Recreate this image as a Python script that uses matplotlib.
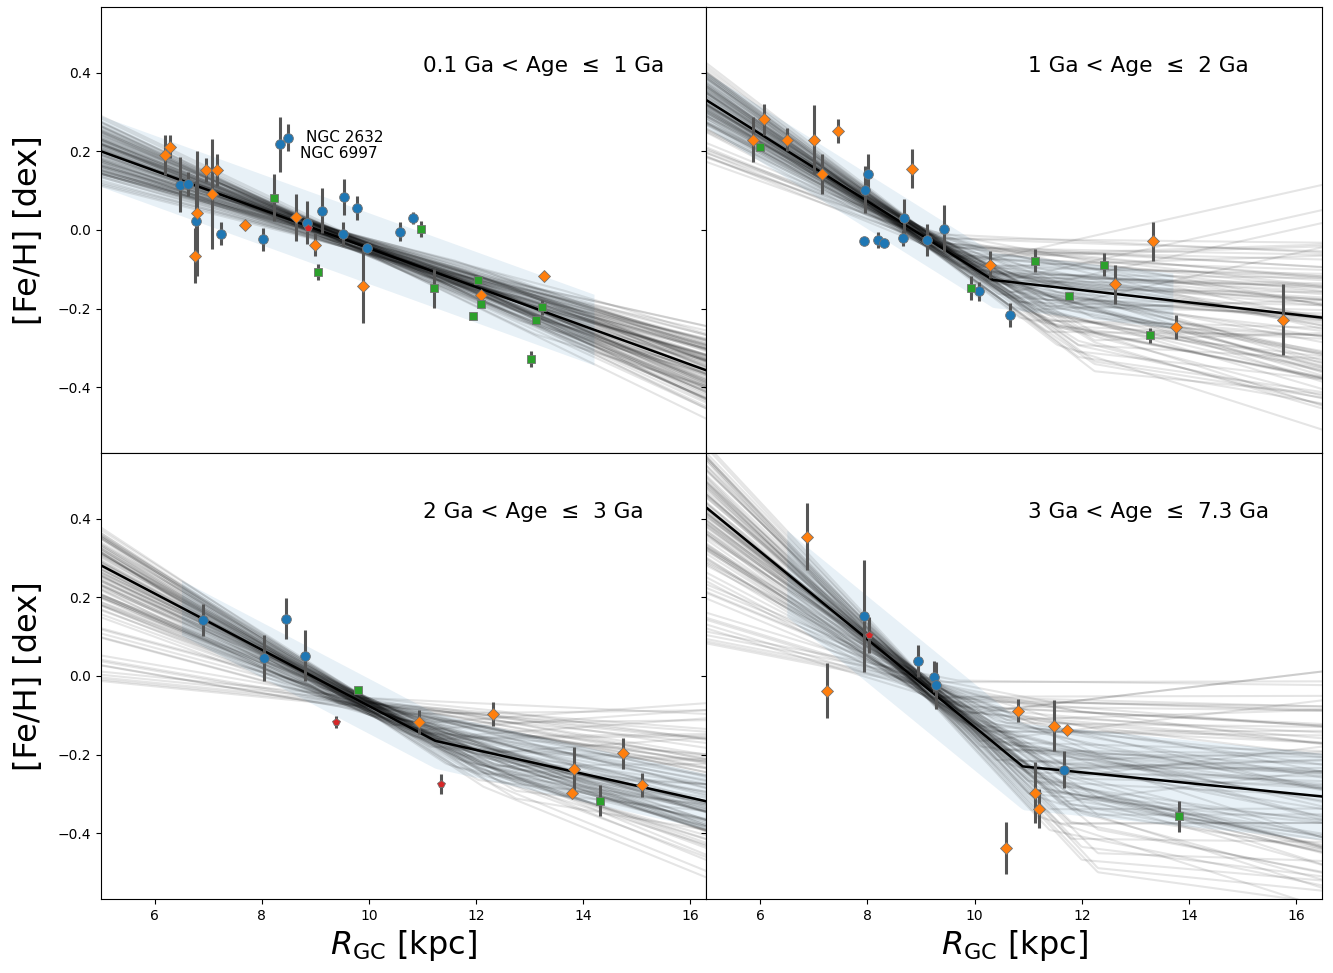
import matplotlib.pyplot as plt
import numpy as np

# Figure size (inches) and DPI
figsize = (13.33, 9.73)
dpi = 100

# Panel titles (age bins)
titles = ['0.1 Ga < Age  \u2264  1 Ga', '1 Ga < Age  \u2264  2 Ga',
          '2 Ga < Age  \u2264  3 Ga', '3 Ga < Age  \u2264  7.3 Ga']

# --- Cluster data per age bin: (R_GC, [Fe/H], error) for each sample ---
# 0.1 - 1 Ga
blue_r1 = [6.47, 6.63, 6.77, 7.24, 8.02, 8.34, 8.49, 8.85, 9.12, 9.53, 9.52, 9.77, 9.96, 10.58, 10.82]
blue_f1 = [0.115, 0.117, 0.024, -0.009, -0.024, 0.218, 0.235, 0.019, 0.049, 0.084, -0.010, 0.056, -0.045, -0.004, 0.031]
blue_e1 = [0.07, 0.03, 0.10, 0.03, 0.03, 0.07, 0.035, 0.055, 0.057, 0.045, 0.03, 0.03, 0.01, 0.025, 0.015]
orng_r1 = [6.19, 6.28, 6.95, 7.16, 7.08, 6.80, 6.75, 7.68, 8.63, 8.99, 9.89, 12.09, 13.27]
orng_f1 = [0.191, 0.212, 0.152, 0.152, 0.091, 0.042, -0.066, 0.013, 0.032, -0.037, -0.142, -0.165, -0.118]
orng_e1 = [0.05, 0.03, 0.03, 0.04, 0.14, 0.16, 0.07, 0.0, 0.06, 0.03, 0.094, 0.0, 0.0]
gren_r1 = [8.22, 9.04, 10.97, 11.21, 12.03, 12.09, 11.95, 13.23, 13.12, 13.02]
gren_f1 = [0.082, -0.106, 0.003, -0.148, -0.127, -0.187, -0.218, -0.197, -0.228, -0.328]
gren_e1 = [0.06, 0.02, 0.02, 0.05, 0.0, 0.0, 0.0, 0.02, 0.0, 0.02]
red_r1 = [8.87]
red_f1 = [0.004]
red_e1 = [0.0]

# 1 - 2 Ga
blue_r2 = [8.01, 7.96, 7.93, 8.19, 8.32, 8.69, 8.66, 9.12, 9.43, 10.08, 10.67]
blue_f2 = [0.142, 0.102, -0.028, -0.025, -0.034, 0.030, -0.021, -0.025, 0.003, -0.156, -0.216]
blue_e2 = [0.05, 0.06, 0.0, 0.02, 0.0, 0.05, 0.02, 0.04, 0.06, 0.025, 0.03]
orng_r2 = [5.87, 6.07, 6.50, 7.00, 7.16, 7.45, 8.84, 10.29, 13.33, 12.62, 13.75, 15.76]
orng_f2 = [0.230, 0.281, 0.230, 0.230, 0.142, 0.251, 0.156, -0.088, -0.029, -0.138, -0.246, -0.228]
orng_e2 = [0.058, 0.04, 0.03, 0.087, 0.05, 0.03, 0.05, 0.035, 0.05, 0.05, 0.03, 0.09]
gren_r2 = [6.00, 9.93, 11.12, 11.77, 12.42, 13.27]
gren_f2 = [0.212, -0.148, -0.078, -0.168, -0.088, -0.268]
gren_e2 = [0.0, 0.03, 0.03, 0.0, 0.03, 0.02]
red_r2 = []
red_f2 = []
red_e2 = []

# 2 - 3 Ga
blue_r3 = [6.91, 8.04, 8.46, 8.80]
blue_f3 = [0.142, 0.045, 0.146, 0.052]
blue_e3 = [0.04, 0.058, 0.052, 0.065]
orng_r3 = [10.94, 12.31, 13.83, 13.79, 14.74, 15.10]
orng_f3 = [-0.117, -0.096, -0.236, -0.297, -0.197, -0.277]
orng_e3 = [0.03, 0.03, 0.055, 0.0, 0.04, 0.03]
gren_r3 = [9.80, 14.31]
gren_f3 = [-0.036, -0.317]
gren_e3 = [0.0, 0.04]
red_r3 = [9.38, 11.35]
red_f3 = [-0.117, -0.275]
red_e3 = [0.015, 0.025]

# 3 - 7.3 Ga
blue_r4 = [7.93, 8.95, 9.25, 9.28, 11.66]
blue_f4 = [0.152, 0.038, -0.002, -0.024, -0.239]
blue_e4 = [0.143, 0.04, 0.04, 0.06, 0.047]
orng_r4 = [6.87, 7.25, 10.82, 11.49, 11.73, 11.13, 11.20, 10.58]
orng_f4 = [0.354, -0.037, -0.088, -0.127, -0.138, -0.297, -0.337, -0.437]
orng_e4 = [0.085, 0.07, 0.03, 0.065, 0.0, 0.078, 0.05, 0.066]
gren_r4 = [13.81]
gren_f4 = [-0.357]
gren_e4 = [0.04]
red_r4 = [8.03]
red_f4 = [0.104]
red_e4 = [0.045]

# --- Broken-line fits: knot radius, [Fe/H] at knot, inner and outer slope ---
knot = [12.0, 10.34, 11.24, 10.90]
feh_knot = [-0.145, -0.127, -0.165, -0.230]
slope_in = [-0.0493, -0.0856, -0.0715, -0.1115]
slope_out = [-0.0493, -0.0156, -0.0304, -0.0137]
# radius where the posterior ensemble is tightest
pivot = [9.5, 9.0, 10.0, 9.0]
# half width of the shaded scatter band and its radial extent
band_half = [0.09, 0.07, 0.07, 0.11]
band_range = [(5.0, 14.2), (5.0, 13.7), (6.5, 16.5), (6.5, 16.5)]

# Posterior draw offsets (knot, pivot value, inner slope, outer slope)
dk = [[-1.5, 0.8, -0.4, 1.6, 0.2, -1.0, 1.1, -0.2, 0.5, -1.8, 1.3, -0.7, 0.0],
      [-0.6, 1.0, 0.1, -0.9, 0.5, 1.6, -0.3, 0.8, -1.2, 0.3, 1.9, -0.1, 1.2],
      [-1.2, 0.8, -0.4, 1.1, 0.2, -1.8, 0.6, -0.1, 1.5, -0.8, 0.4, -1.4, 0.9],
      [-0.8, 0.9, 0.2, -1.2, 0.5, 1.4, -0.3, 0.7, -0.5, 0.1, 1.1, -1.5, 0.3]]
dy = [[0.012, -0.016, 0.004, -0.006, 0.018, -0.01, 0.0, 0.008, -0.003,
       0.014, -0.02, 0.006, -0.012, 0.002, 0.01, -0.008, 0.016],
      [0.014, -0.018, 0.004, -0.008, 0.02, -0.012, 0.0, 0.009, -0.004,
       0.016, -0.022, 0.007, -0.014, 0.002, 0.011, -0.009, 0.018],
      [0.012, -0.018, 0.005, -0.008, 0.02, -0.012, 0.0, 0.009, -0.004,
       0.015, -0.022, 0.007, -0.014, 0.002, 0.011, -0.009, 0.017],
      [0.016, -0.022, 0.006, -0.01, 0.025, -0.014, 0.0, 0.01, -0.005,
       0.019, -0.027, 0.008, -0.017, 0.003, 0.013, -0.011, 0.021]]
ds1 = [[0.005, -0.009, 0.012, -0.003, 0.008, -0.013, 0.002, -0.006, 0.01, -0.001,
        0.015, -0.011, 0.004, -0.016, 0.007, 0.0, -0.005, 0.013, -0.008],
       [0.006, -0.012, 0.015, -0.004, 0.009, -0.016, 0.03, -0.007, 0.002, 0.012,
        -0.009, 0.004, -0.019, 0.037, -0.002, 0.008, -0.013, 0.019, 0.0],
       [0.006, -0.012, 0.016, -0.004, 0.01, -0.015, 0.048, 0.0, 0.022, -0.008,
        0.012, 0.003, -0.018, 0.035, -0.002, 0.008, -0.01, 0.058, 0.018],
       [0.01, -0.022, 0.025, -0.006, 0.016, -0.03, 0.07, 0.002, 0.04, -0.012,
        0.02, 0.005, -0.035, 0.055, -0.003, 0.012, -0.018, 0.085, 0.03]]
ds2 = [[-0.008, 0.011, 0.002, -0.014, 0.006, -0.003, 0.015, -0.011, 0.0, 0.008, -0.005, 0.004,
        -0.017, 0.012, -0.001, 0.019, -0.009, 0.005, -0.013, 0.009, -0.006, 0.001, 0.013],
       [-0.012, 0.014, 0.003, -0.024, 0.008, -0.004, 0.02, -0.017, 0.0, 0.011, -0.008, 0.009,
        -0.028, 0.005, -0.014, 0.046, -0.006, 0.013, -0.02, 0.002, 0.012, -0.01, 0.007],
       [-0.012, 0.016, 0.003, -0.02, 0.008, -0.004, 0.032, -0.015, 0.0, 0.012, -0.007, 0.02,
        -0.025, 0.005, -0.011, 0.04, -0.003, 0.01, -0.017, 0.002, 0.024, -0.008, 0.006],
       [-0.014, 0.012, 0.003, -0.024, 0.009, -0.005, 0.03, -0.018, 0.0, 0.012, -0.008, 0.014,
        -0.03, 0.006, -0.012, 0.018, -0.003, 0.01, -0.02, 0.002, 0.014, -0.01, 0.007]]
ndraws = 100

data = [
    (blue_r1, blue_f1, blue_e1, orng_r1, orng_f1, orng_e1, gren_r1, gren_f1, gren_e1, red_r1, red_f1, red_e1),
    (blue_r2, blue_f2, blue_e2, orng_r2, orng_f2, orng_e2, gren_r2, gren_f2, gren_e2, red_r2, red_f2, red_e2),
    (blue_r3, blue_f3, blue_e3, orng_r3, orng_f3, orng_e3, gren_r3, gren_f3, gren_e3, red_r3, red_f3, red_e3),
    (blue_r4, blue_f4, blue_e4, orng_r4, orng_f4, orng_e4, gren_r4, gren_f4, gren_e4, red_r4, red_f4, red_e4),
]

xlims = [(5.0, 16.3), (5.0, 16.48)]
ymin, ymax = -0.567, 0.567


def broken_line(x, k, yk, s1, s2):
    return np.where(x < k, yk + s1*(x - k), yk + s2*(x - k))


def line_through_pivot(x, xp, yp, k, s1, s2):
    # knot value from the pivot point
    if xp <= k:
        yk = yp + s1*(k - xp)
    else:
        yk = yp - s2*(xp - k)
    return broken_line(x, k, yk, s1, s2)


fig, axes = plt.subplots(2, 2, figsize=figsize, dpi=dpi, sharex='col', sharey=True,
                         gridspec_kw={'width_ratios': [605, 615]})
fig.subplots_adjust(left=0.0758, right=0.9917, top=0.9928, bottom=0.0761,
                    wspace=0, hspace=0)

styles = [('o', 'C0', 7), ('D', 'C1', 6), ('s', 'C2', 6), ('p', 'C3', 5.5)]

for i, ax in enumerate(axes.flat):
    xmin, xmax = xlims[i % 2]
    xx = np.linspace(xmin, xmax, 400)
    k, yk, s1, s2 = knot[i], feh_knot[i], slope_in[i], slope_out[i]
    med = broken_line(xx, k, yk, s1, s2)

    # scatter band
    bx = np.linspace(band_range[i][0], band_range[i][1], 200)
    bm = broken_line(bx, k, yk, s1, s2)
    ax.fill_between(bx, bm - band_half[i], bm + band_half[i], color='C0',
                    alpha=0.1, lw=0, zorder=1)

    # posterior draws
    yp0 = float(broken_line(np.array(pivot[i]), k, yk, s1, s2))
    for j in range(ndraws):
        kj = k + dk[i][j % len(dk[i])]
        ypj = yp0 + dy[i][j % len(dy[i])]
        s1j = s1 + ds1[i][j % len(ds1[i])]
        s2j = s2 + ds2[i][j % len(ds2[i])]
        ax.plot(xx, line_through_pivot(xx, pivot[i], ypj, kj, s1j, s2j),
                color='k', alpha=0.1, lw=1.5, zorder=2)

    # median fit
    ax.plot(xx, med, color='k', lw=1.8, zorder=3)

    # clusters
    d = data[i]
    for n, (marker, color, ms) in enumerate(styles):
        r, f, e = d[3*n], d[3*n + 1], d[3*n + 2]
        if len(r) == 0:
            continue
        ax.errorbar(r, f, yerr=e, fmt=marker, color=color, ms=ms,
                    mec='0.45', mew=0.6, ecolor='#555555', elinewidth=2.2,
                    capsize=0, zorder=4)

    ax.text(11.0, 0.416, titles[i], fontsize=15.6, ha='left', va='center')

    ax.set_xlim(xmin, xmax)
    ax.set_ylim(ymin, ymax)
    ax.set_xticks([6, 8, 10, 12, 14, 16])
    ax.set_yticks([-0.4, -0.2, 0.0, 0.2, 0.4])
    ax.tick_params(labelsize=10)

# labelled clusters in the youngest bin
axes[0, 0].text(8.82, 0.235, 'NGC 2632', fontsize=11, ha='left', va='center')
axes[0, 0].text(8.72, 0.194, 'NGC 6997', fontsize=11, ha='left', va='center')

for ax in axes[:, 0]:
    ax.set_ylabel('[Fe/H] [dex]', fontsize=23, labelpad=10)
for ax in axes[1, :]:
    ax.set_xlabel(r'$R_{\rm GC}$ [kpc]', fontsize=23)

fig.savefig('out.png', dpi=dpi)
